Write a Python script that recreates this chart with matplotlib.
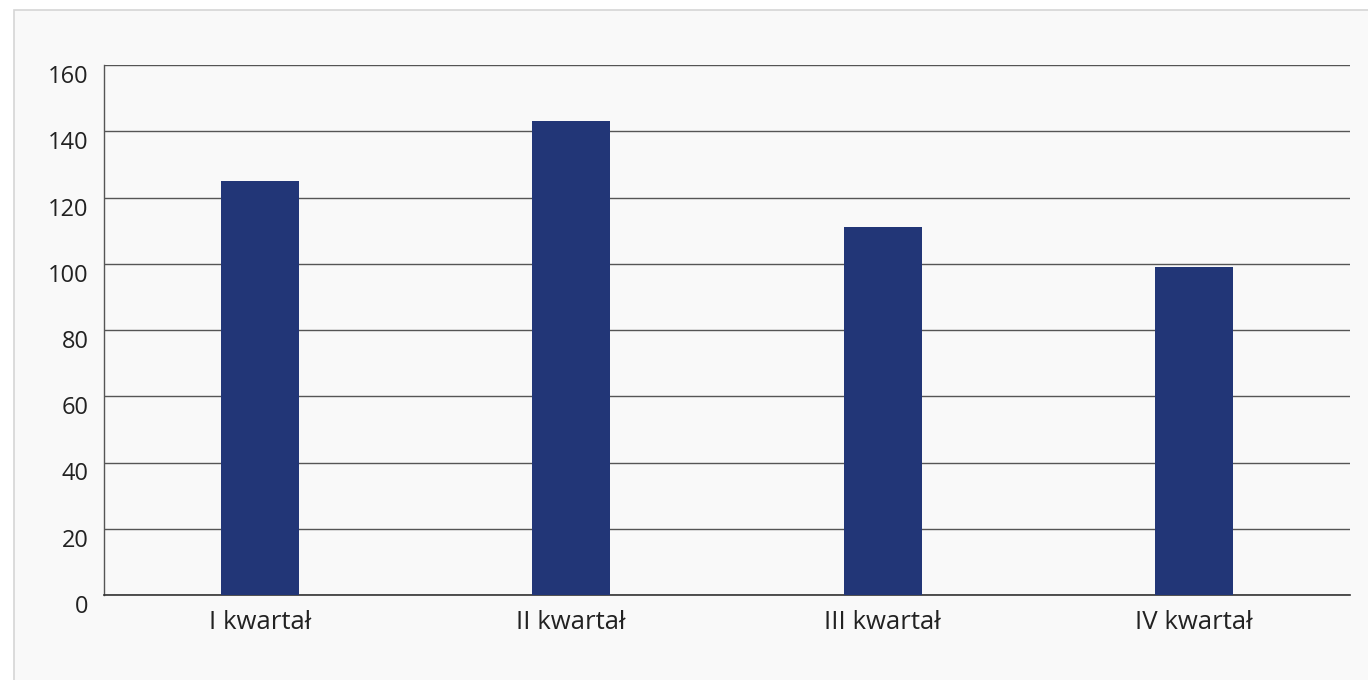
import matplotlib.pyplot as plt
from matplotlib.patches import Rectangle

categories = ['I kwartał', 'II kwartał', 'III kwartał', 'IV kwartał']
values = [125, 143, 111, 99]
y_ticks = [0, 20, 40, 60, 80, 100, 120, 140, 160]

plt.rcParams['font.family'] = ['Open Sans', 'DejaVu Sans']

fig = plt.figure(figsize=(13.68, 6.8), dpi=100)
fig.patch.set_facecolor('white')

# light gray panel behind the chart
bg = fig.add_axes([0, 0, 1, 1], zorder=-10)
bg.set_xlim(0, 1368)
bg.set_ylim(680, 0)
bg.axis('off')
bg.add_patch(Rectangle((14, 10), 1400, 700, facecolor='#f9f9f9',
                       edgecolor='#d6d6d6', linewidth=1.2))

ax = fig.add_axes([104 / 1368, 1 - 595 / 680, (1350 - 104) / 1368, (595 - 65) / 680])
ax.set_facecolor('none')

x = range(len(categories))
ax.bar(x, values, width=0.25, color='#223677', zorder=3)

ax.set_xlim(-0.5, 3.5)
ax.set_ylim(0, 160)
ax.set_yticks(y_ticks)
ax.set_xticks(list(x))
ax.set_xticklabels(categories)
ax.yaxis.grid(True, color='#555555', linewidth=1.0)
ax.set_axisbelow(True)

for s in ['top', 'right']:
    ax.spines[s].set_visible(False)
ax.spines['left'].set_color('#555555')
ax.spines['bottom'].set_color('#333333')
ax.spines['left'].set_linewidth(1.0)
ax.spines['bottom'].set_linewidth(1.2)

ax.tick_params(axis='both', length=0, labelcolor='#222222')
ax.tick_params(axis='y', pad=11, labelsize=17)
ax.tick_params(axis='x', pad=11, labelsize=18.5)
for lbl in ax.get_yticklabels():
    lbl.set_verticalalignment('top')

plt.savefig('out.png', dpi=100, facecolor=fig.get_facecolor())
